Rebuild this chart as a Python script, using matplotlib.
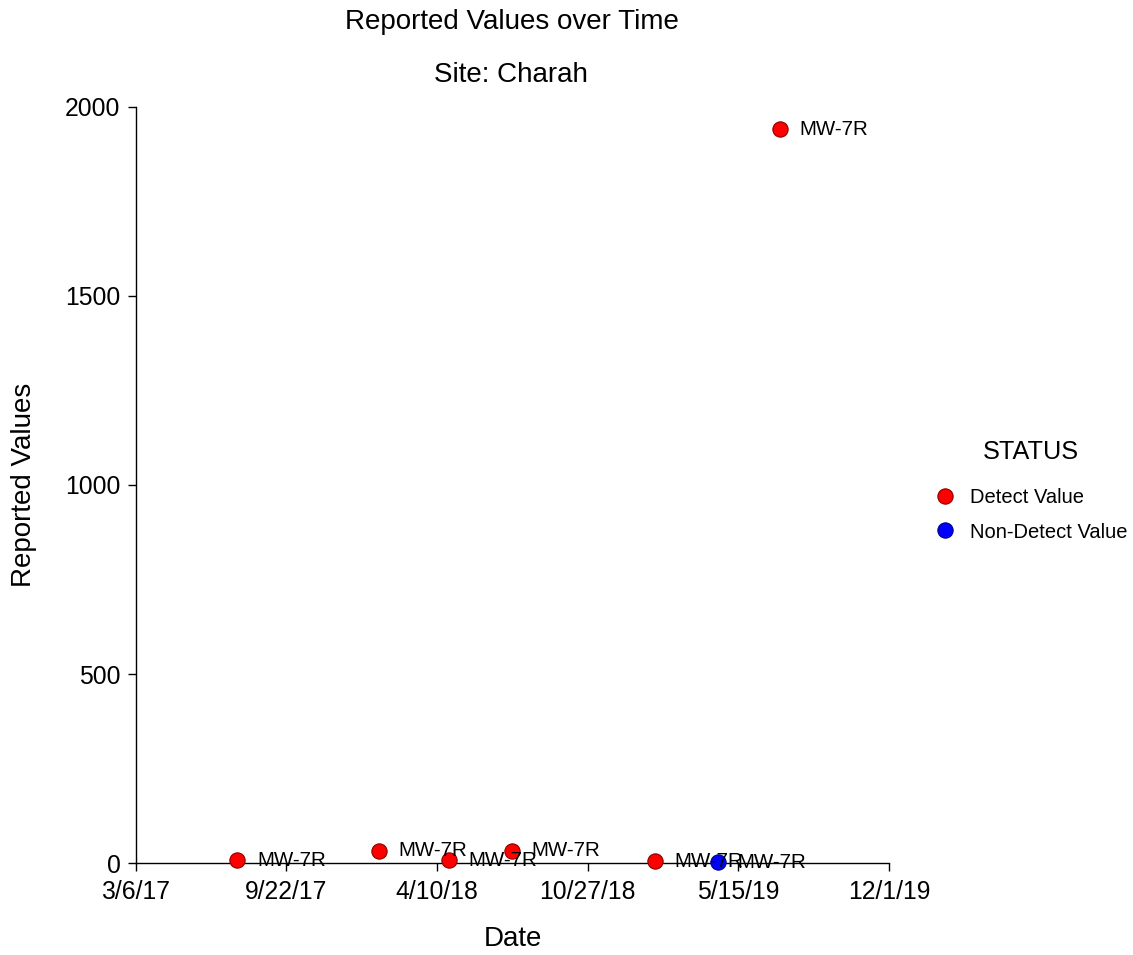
import matplotlib
matplotlib.use("Agg")
import matplotlib.pyplot as plt
import matplotlib.dates as mdates
from matplotlib.lines import Line2D
import datetime as dt

plt.rcParams['font.family'] = ['Liberation Sans', 'DejaVu Sans']

# Sample data
dates = ["2017-07-19", "2018-01-23", "2018-04-26", "2018-07-18",
         "2019-01-24", "2019-04-18", "2019-07-09"]
values = [8, 32, 8, 32, 5, 2, 1941]
status = ["Detect", "Detect", "Detect", "Detect", "Detect", "Non-Detect", "Detect"]
wells = ["MW-7R"] * 7

x_ticks = ["2017-03-06", "2017-09-22", "2018-04-10", "2018-10-27",
           "2019-05-15", "2019-12-01"]
x_tick_labels = ["3/6/17", "9/22/17", "4/10/18", "10/27/18", "5/15/19", "12/1/19"]
y_ticks = [0, 500, 1000, 1500, 2000]

face = {"Detect": "#ff0000", "Non-Detect": "#0000ff"}
edge = {"Detect": "#8b0000", "Non-Detect": "#00008b"}

to_num = lambda s: mdates.date2num(dt.datetime.strptime(s, "%Y-%m-%d"))

fig = plt.figure(figsize=(11.33, 9.55), dpi=100)
ax = fig.add_axes([0.1198, 0.0963, 0.665, 0.7917])

for d, v, s, w in zip(dates, values, status, wells):
    xn = to_num(d)
    ax.plot(xn, v, 'o', ms=11, mfc=face[s], mec=edge[s], mew=0.8,
            clip_on=False, zorder=3)
    ax.annotate(w, (xn, v), xytext=(14, 0), textcoords="offset points",
                va="center", ha="left", fontsize=14.8, zorder=4)

xt = [to_num(t) for t in x_ticks]
ax.set_xlim(xt[0], xt[-1])
ax.set_xticks(xt)
ax.set_xticklabels(x_tick_labels)
ax.set_ylim(0, 2000)
ax.set_yticks(y_ticks)
ax.set_yticklabels([str(v) for v in y_ticks])

for sp in ["top", "right"]:
    ax.spines[sp].set_visible(False)
ax.spines["left"].set_linewidth(1.0)
ax.spines["bottom"].set_linewidth(1.0)
ax.tick_params(axis="both", direction="out", length=6, width=1.0,
               labelsize=17.8)
ax.tick_params(axis="x", pad=6)
ax.tick_params(axis="y", pad=5)

ax.set_xlabel("Date", fontsize=20, labelpad=16)
ax.set_ylabel("Reported Values", fontsize=20, labelpad=20)

fig.text(0.452, 0.977, "Reported Values over Time", ha="center", va="center",
         fontsize=20)
fig.text(0.451, 0.921, "Site: Charah", ha="center", va="center", fontsize=20)

handles = [Line2D([], [], marker='o', ls='none', ms=11, mfc=face[k],
                  mec=edge[k], mew=0.8) for k in ["Detect", "Non-Detect"]]
leg = fig.legend(handles, ["Detect Value", "Non-Detect Value"],
                 title="STATUS", loc="center", bbox_to_anchor=(0.910, 0.486),
                 frameon=False, fontsize=14.5, title_fontsize=18.2,
                 handletextpad=0.72, labelspacing=0.78, handlelength=1.0)
leg._legend_box.sep = 17

fig.savefig("out.png", dpi=100)
